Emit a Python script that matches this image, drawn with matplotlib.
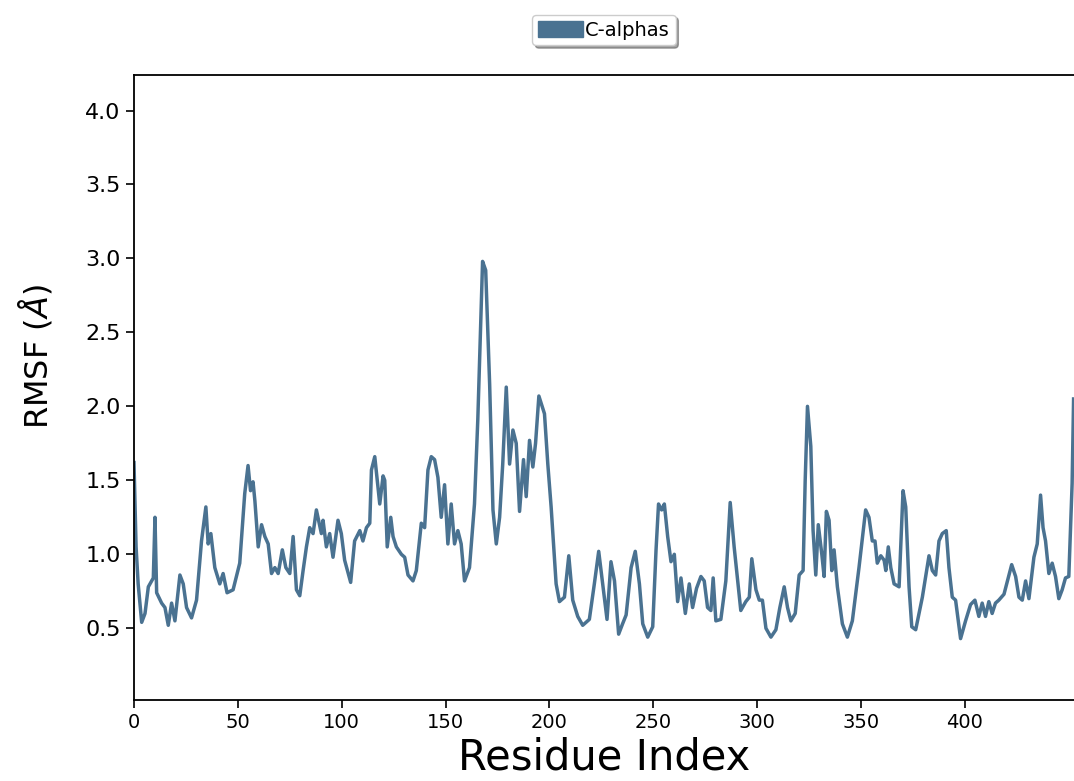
import numpy as np
import matplotlib
matplotlib.use('Agg')
import matplotlib.pyplot as plt
from matplotlib.patches import Patch

# C-alpha RMSF values
residue = [
    0, 1.0, 2.0, 3.7, 5.3, 6.9, 9.3, 10.1, 10.9, 13.3, 14.9, 16.5, 18.1, 19.7,
    22.1, 23.7, 25.3, 27.7, 30.1, 32.5, 34.6, 35.7, 37.0, 38.9, 41.3, 42.9,
    44.8, 47.7, 50.9, 53.3, 54.9, 56.1, 57.3, 58.2, 59.8, 61.4, 63.0, 64.6,
    66.2, 67.8, 69.4, 71.4, 73.1, 75.0, 76.6, 78.2, 79.8, 81.4, 83.0, 84.6,
    86.2, 87.8, 90.2, 91.0, 92.6, 94.2, 95.8, 98.2, 99.8, 101.4, 104.3, 106.2,
    108.7, 110.2, 111.9, 113.5, 114.3, 115.9, 118.3, 119.9, 120.7, 121.9,
    123.6, 124.7, 126.3, 128.7, 130.3, 131.9, 134.3, 135.9, 138.3, 139.9,
    141.5, 143.1, 144.7, 146.3, 147.9, 149.5, 151.1, 152.7, 154.3, 155.9,
    157.5, 159.1, 161.5, 163.9, 165.5, 167.8, 169.3, 171.2, 172.8, 174.4,
    176.0, 177.5, 179.2, 180.8, 182.4, 184.0, 185.6, 187.5, 188.8, 190.4,
    192.0, 193.3, 194.9, 197.6, 199.2, 200.8, 203.2, 204.8, 207.2, 209.3,
    211.2, 213.6, 216.0, 219.2, 221.6, 223.7, 225.6, 227.7, 229.6, 231.3,
    233.3, 235.2, 236.9, 239.3, 241.3, 243.3, 244.9, 247.3, 249.7, 251.3,
    252.5, 254.0, 255.3, 256.9, 258.5, 260.1, 261.7, 263.3, 265.4, 267.3,
    268.9, 270.8, 272.9, 274.5, 276.1, 277.7, 278.8, 280.1, 282.5, 284.9,
    287.0, 288.9, 292.1, 294.5, 296.2, 297.4, 299.4, 301.0, 302.5, 304.2,
    306.6, 309.0, 310.9, 313.0, 314.6, 316.2, 318.3, 320.2, 322.1, 323.1,
    324.2, 325.8, 326.9, 328.2, 329.4, 331.1, 332.2, 333.3, 334.6, 335.9,
    337.0, 338.6, 341.0, 343.4, 345.8, 349.0, 352.2, 353.8, 355.4, 356.7,
    357.8, 359.5, 361.1, 361.9, 363.1, 364.3, 365.9, 368.3, 370.2, 371.5,
    373.1, 374.4, 376.3, 377.9, 379.5, 381.1, 382.7, 384.3, 385.9, 387.5,
    389.1, 391.0, 392.3, 393.9, 395.5, 397.9, 400.3, 402.7, 404.8, 406.7,
    408.3, 409.9, 411.5, 413.1, 414.7, 416.3, 418.8, 420.3, 422.5, 424.4,
    426.0, 427.6, 429.2, 430.8, 433.2, 434.8, 436.4, 437.6, 438.8, 440.4,
    442.0, 443.6, 445.2, 446.8, 448.4, 450.0, 451.6, 452.3,
]
rmsf = [
    1.62, 1.05, 0.80, 0.54, 0.60, 0.78, 0.84, 1.25, 0.74, 0.67, 0.64, 0.52, 0.67, 0.55,
    0.86, 0.80, 0.64, 0.57, 0.69, 1.09, 1.32, 1.07, 1.14, 0.91, 0.80, 0.87,
    0.74, 0.76, 0.94, 1.41, 1.60, 1.43, 1.49, 1.36, 1.05, 1.20, 1.12, 1.07,
    0.87, 0.91, 0.87, 1.03, 0.91, 0.87, 1.12, 0.76, 0.72, 0.89, 1.05, 1.18,
    1.14, 1.30, 1.14, 1.23, 1.05, 1.14, 0.98, 1.23, 1.14, 0.96, 0.81, 1.09,
    1.16, 1.09, 1.18, 1.21, 1.57, 1.66, 1.34, 1.53, 1.50, 1.05,
    1.25, 1.12, 1.05, 1.00, 0.98, 0.86, 0.82, 0.89, 1.21, 1.18,
    1.57, 1.66, 1.64, 1.52, 1.25, 1.47, 1.07, 1.34, 1.07, 1.16,
    1.07, 0.82, 0.91, 1.34, 1.91, 2.98, 2.92, 2.15, 1.30, 1.07,
    1.25, 1.61, 2.13, 1.61, 1.84, 1.75, 1.29, 1.64, 1.39, 1.77,
    1.59, 1.75, 2.07, 1.95, 1.61, 1.32, 0.80, 0.68, 0.71, 0.99,
    0.69, 0.58, 0.52, 0.56, 0.80, 1.02, 0.80, 0.56, 0.95, 0.82,
    0.46, 0.53, 0.59, 0.91, 1.02, 0.80, 0.53, 0.44, 0.51, 1.03,
    1.34, 1.30, 1.34, 1.12, 0.95, 1.00, 0.68, 0.84, 0.60, 0.80,
    0.64, 0.77, 0.85, 0.82, 0.64, 0.62, 0.84, 0.55, 0.56, 0.82,
    1.35, 1.05, 0.62, 0.68, 0.71, 0.97, 0.76, 0.69, 0.69, 0.50,
    0.44, 0.49, 0.64, 0.78, 0.64, 0.55, 0.60, 0.86, 0.89, 1.50,
    2.00, 1.73, 1.16, 0.86, 1.20, 1.00, 0.85, 1.29, 1.23, 0.89,
    1.03, 0.78, 0.53, 0.44, 0.55, 0.91, 1.30, 1.25, 1.09, 1.09,
    0.94, 0.99, 0.96, 0.89, 1.05, 0.91, 0.80, 0.78, 1.43, 1.32,
    0.78, 0.51, 0.49, 0.60, 0.71, 0.85, 0.99, 0.89, 0.86, 1.09,
    1.14, 1.16, 0.91, 0.71, 0.69, 0.43, 0.55, 0.66, 0.69, 0.58,
    0.67, 0.58, 0.68, 0.60, 0.67, 0.69, 0.73, 0.81, 0.93, 0.85,
    0.71, 0.69, 0.82, 0.70, 0.98, 1.07, 1.40, 1.18, 1.09, 0.87,
    0.94, 0.85, 0.70, 0.76, 0.84, 0.85, 1.48, 2.05,
]

x_ticks = [0, 50, 100, 150, 200, 250, 300, 350, 400]
y_ticks = [0.5, 1.0, 1.5, 2.0, 2.5, 3.0, 3.5, 4.0]
line_color = '#4a7291'

fig = plt.figure(figsize=(10.74, 7.81), dpi=100)
ax = fig.add_axes([134 / 1074, 81 / 781, (1074 - 134) / 1074, 625 / 781])

ax.plot(residue, rmsf, color=line_color, linewidth=2.5, solid_joinstyle='round')

ax.set_xlim(0, 452.5)
ax.set_ylim(0.015, 4.24)
ax.set_xticks(x_ticks)
ax.set_yticks(y_ticks)
ax.tick_params(axis='both', direction='out', length=6, width=1.2)
ax.tick_params(axis='x', labelsize=14)
ax.tick_params(axis='y', labelsize=16)
for side in ['left', 'bottom', 'top']:
    ax.spines[side].set_linewidth(1.3)
ax.spines['right'].set_visible(False)

ax.set_xlabel('Residue Index', fontsize=30, labelpad=3)
ax.set_ylabel(r'RMSF ($\AA$)', fontsize=23)
ax.yaxis.set_label_coords(-0.085, 0.55)

handle = Patch(facecolor=line_color, edgecolor=line_color, label='C-alphas')
ax.legend(handles=[handle], loc='center', bbox_to_anchor=(0.5, 1.072),
          fontsize=14, handlelength=2.3, handleheight=0.9, handletextpad=0.1,
          borderpad=0.3, borderaxespad=0, frameon=True, shadow=True)

fig.savefig('out.png', dpi=100)
